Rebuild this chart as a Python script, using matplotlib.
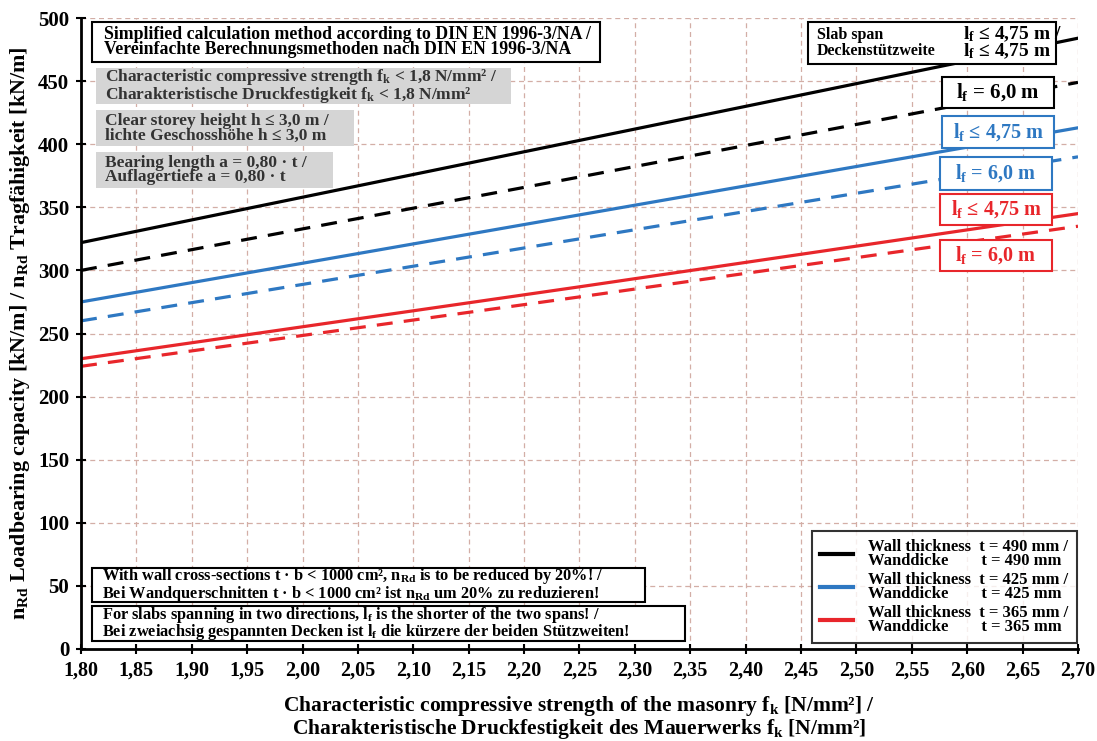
import matplotlib
matplotlib.use("Agg")
import matplotlib.pyplot as plt
from matplotlib.patches import Rectangle
import numpy as np

plt.rcParams['font.family'] = ['Liberation Serif', 'DejaVu Serif']
plt.rcParams['font.weight'] = 'bold'
plt.rcParams['mathtext.fontset'] = 'custom'
plt.rcParams['mathtext.rm'] = 'Liberation Serif:bold'
plt.rcParams['mathtext.it'] = 'Liberation Serif:italic:bold'
plt.rcParams['mathtext.bf'] = 'Liberation Serif:bold'
plt.rcParams['mathtext.default'] = 'rm'

# data
fk = [1.80, 2.25, 2.70]
t490_short = [322, 403, 484]
t490_long = [300, 374, 449]
t425_short = [275, 344, 413]
t425_long = [260, 325, 390]
t365_short = [230, 287, 345]
t365_long = [224, 279, 335]

BLACK = '#000000'
BLUE = '#2e78c2'
RED = '#e8262b'
GRID = '#d3aea6'

fig = plt.figure(figsize=(10.97, 7.41), dpi=100)
ax = fig.add_axes([81/1097, 1 - 649/741, 997/1097, 631/741])

# px -> axes fraction
def ax_pos(px, py):
    return (px - 81) / 997, (649 - py) / 631

ax.plot(fk, t490_short, color=BLACK, lw=2.3, label='Wall thickness  t = 490 mm /\nWanddicke        t = 490 mm')
ax.plot(fk, t490_long, color=BLACK, lw=2.3, ls=(0, (5, 3.5)))
ax.plot(fk, t425_short, color=BLUE, lw=2.3, label='Wall thickness  t = 425 mm /\nWanddicke        t = 425 mm')
ax.plot(fk, t425_long, color=BLUE, lw=2.3, ls=(0, (5, 3.5)))
ax.plot(fk, t365_short, color=RED, lw=2.3, label='Wall thickness  t = 365 mm /\nWanddicke        t = 365 mm')
ax.plot(fk, t365_long, color=RED, lw=2.3, ls=(0, (5, 3.5)))

ax.set_xlim(1.80, 2.70)
ax.set_ylim(0, 500)
xt = np.round(np.arange(1.80, 2.701, 0.05), 2)
ax.set_xticks(xt)
ax.set_xticklabels([f"{v:.2f}".replace('.', ',') for v in xt], fontsize=14.5, fontweight='bold')
yt = np.arange(0, 501, 50)
ax.set_yticks(yt)
ax.set_yticklabels([str(v) for v in yt], fontsize=15, fontweight='bold')
ax.tick_params(axis='both', direction='inout', length=7, width=1.5, pad=5)
ax.grid(True, color=GRID, ls=(0, (4, 3)), lw=0.9)
ax.spines['top'].set_visible(False)
ax.spines['right'].set_visible(False)
ax.spines['left'].set_linewidth(2)
ax.spines['bottom'].set_linewidth(2)

ax.set_xlabel('Characteristic compressive strength of the masonry f$_\\mathrm{k}$ [N/mm²] /\n'
              'Charakteristische Druckfestigkeit des Mauerwerks f$_\\mathrm{k}$ [N/mm²]',
              fontsize=15.5, fontweight='bold', linespacing=0.95)
ax.xaxis.set_label_coords(0.5, -0.071, transform=ax.transAxes)
ax.xaxis.label.set_va('top')
ax.set_ylabel('n$_\\mathrm{Rd}$ Loadbearing capacity [kN/m] / n$_\\mathrm{Rd}$ Tragfähigkeit [kN/m]',
              fontsize=15.8, fontweight='bold')
ax.yaxis.set_label_coords(-0.049, 0.5)


def box(x0, y0, x1, y1, text, fc='white', ec='black', tc='black', fs=11, ha='left', lw=1.5, pad=10, ls=0.9):
    ax0, ay1 = ax_pos(x0, y0)
    ax1, ay0 = ax_pos(x1, y1)
    ax.add_patch(Rectangle((ax0, ay0), ax1 - ax0, ay1 - ay0, transform=ax.transAxes,
                           facecolor=fc, edgecolor=ec, lw=lw, zorder=5, clip_on=False))
    if ha == 'left':
        tx = ax0 + pad / 997
    else:
        tx = (ax0 + ax1) / 2
    ax.text(tx, (ay0 + ay1) / 2, text, transform=ax.transAxes, ha=ha, va='center',
            fontsize=fs, fontweight='bold', color=tc, linespacing=ls, zorder=6)


box(92, 22, 600, 62, 'Simplified calculation method according to DIN EN 1996-3/NA /\n'
    'Vereinfachte Berechnungsmethoden nach DIN EN 1996-3/NA', fs=12.8, pad=12)
box(96, 68, 511, 104, 'Characteristic compressive strength f$_\\mathrm{k}$ < 1,8 N/mm² /\n'
    'Charakteristische Druckfestigkeit f$_\\mathrm{k}$ < 1,8 N/mm²', fc='#d5d5d5', ec='none', tc='#333333',
    fs=12.5, pad=9, ls=0.8)
box(96, 110, 354, 146, 'Clear storey height h ≤ 3,0 m /\nlichte Geschosshöhe h ≤ 3,0 m',
    fc='#d5d5d5', ec='none', tc='#333333', fs=12.5, pad=9)
box(96, 152, 333, 188, 'Bearing length a = 0,80 · t /\nAuflagertiefe a = 0,80 · t',
    fc='#d5d5d5', ec='none', tc='#333333', fs=12.5, pad=9)

# slab span box
box(808, 22, 1056, 64, 'Slab span\nDeckenstützweite', fs=11.5, pad=9, ls=1.0)
sx, sy = ax_pos(963, 43)
ax.text(sx, sy, 'l$_\\mathrm{f}$ ≤ 4,75 m /\nl$_\\mathrm{f}$ ≤ 4,75 m', transform=ax.transAxes,
        ha='left', va='center', fontsize=14, fontweight='bold', linespacing=0.85, zorder=7)

box(942, 77, 1054, 108, 'l$_\\mathrm{f}$ = 6,0 m', fs=15, ha='center')
box(942, 116, 1054, 148, 'l$_\\mathrm{f}$ ≤ 4,75 m', ec=BLUE, tc=BLUE, fs=14.5, ha='center')
box(940, 157, 1052, 190, 'l$_\\mathrm{f}$ = 6,0 m', ec=BLUE, tc=BLUE, fs=14.5, ha='center')
box(940, 194, 1052, 225, 'l$_\\mathrm{f}$ ≤ 4,75 m', ec=RED, tc=RED, fs=14.5, ha='center')
box(940, 240, 1052, 271, 'l$_\\mathrm{f}$ = 6,0 m', ec=RED, tc=RED, fs=14.5, ha='center')

box(92, 568, 645, 602, 'With wall cross-sections t · b < 1000 cm², n$_\\mathrm{Rd}$ is to be reduced by 20%! /\n'
    'Bei Wandquerschnitten t · b < 1000 cm² ist n$_\\mathrm{Rd}$ um 20% zu reduzieren!', fs=11.8, pad=10, ls=0.8)
box(92, 606, 685, 641, 'For slabs spanning in two directions, $l_f$ is the shorter of the two spans! /\n'
    'Bei zweiachsig gespannten Decken ist $l_f$ die kürzere der beiden Stützweiten!', fs=11.8, pad=10, ls=0.85)

leg = ax.legend(loc='lower right', bbox_to_anchor=ax_pos(1077, 643), fontsize=12, frameon=True,
                fancybox=False, edgecolor='black', handlelength=2.0, labelspacing=0.2,
                borderpad=0.5, handletextpad=0.9, borderaxespad=0)
leg.get_frame().set_linewidth(1.5)
leg.set_zorder(8)
for line in leg.get_lines():
    line.set_linewidth(3)
for t in leg.get_texts():
    t.set_linespacing(0.8)

fig.savefig('out.png', dpi=100)
